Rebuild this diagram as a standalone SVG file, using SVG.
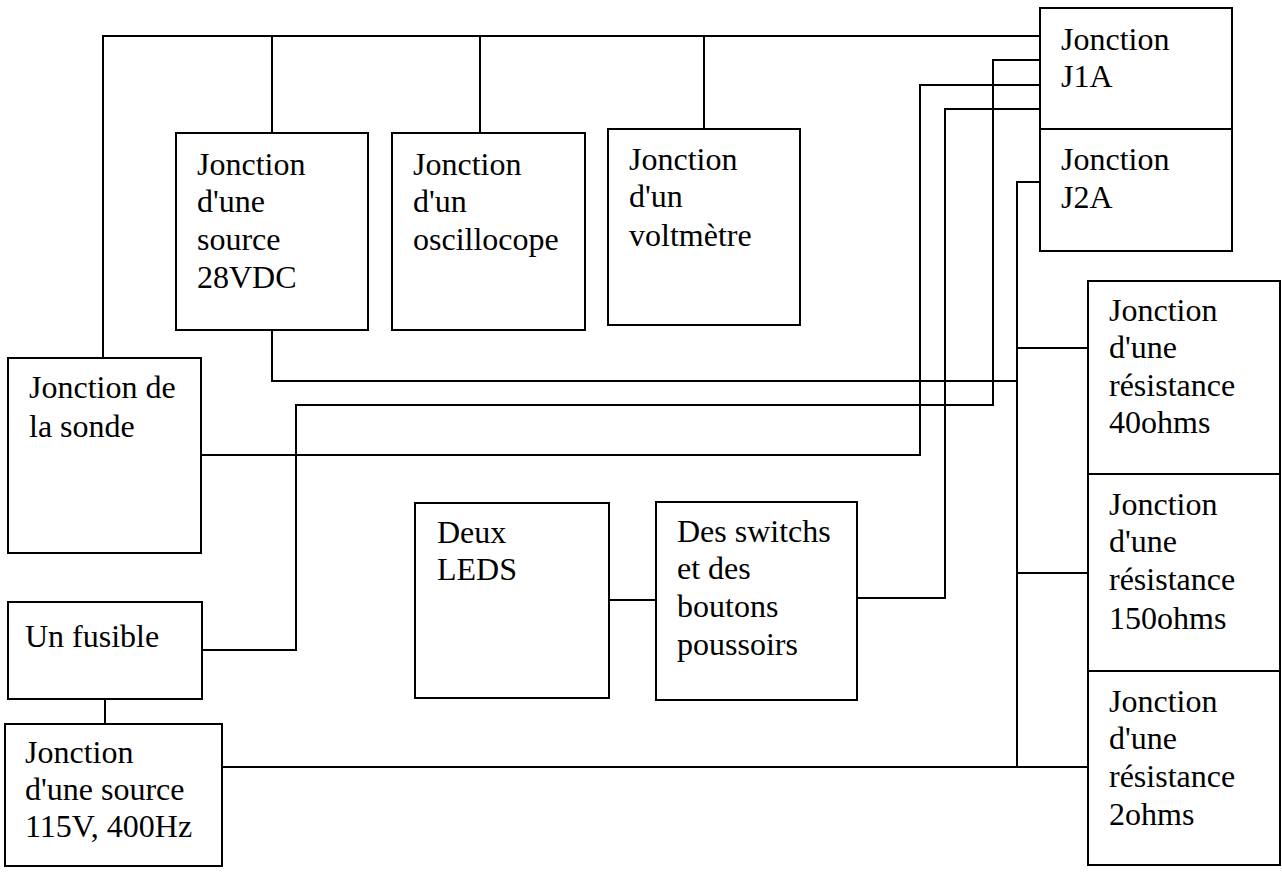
<svg xmlns="http://www.w3.org/2000/svg" width="1282" height="872" viewBox="0 0 1282 872">
<style>
.box{fill:none;stroke:#000;stroke-width:2}
.w{fill:none;stroke:#000;stroke-width:2}
text{font-family:"Liberation Serif","Times New Roman",serif;font-size:32px;fill:#000}
</style>
<rect x="0" y="0" width="1282" height="872" fill="#fff"/>
<g id="connectors">
<path class="w" d="M103,358 V36 H1040"/>
<path class="w" d="M272,36 V133"/>
<path class="w" d="M480,36 V133"/>
<path class="w" d="M704,36 V129"/>
<path class="w" d="M272,330 V381 H1017"/>
<path class="w" d="M202,650 H296 V405 H993 V60 H1040"/>
<path class="w" d="M201,455 H920 V85 H1040"/>
<path class="w" d="M857,598 H945 V109 H1040"/>
<path class="w" d="M1040,182 H1017 V767 H1088"/>
<path class="w" d="M1017,348 H1088"/>
<path class="w" d="M1017,573 H1088"/>
<path class="w" d="M222,767 H1017"/>
<path class="w" d="M609,600 H656"/>
<path class="w" d="M105,699 V724"/>
</g>
<g id="j1a"><rect class="box" x="1040" y="8" width="192" height="121"/><text x="1061" y="50">Jonction</text><text x="1061" y="87">J1A</text></g>
<g id="j2a"><rect class="box" x="1040" y="129" width="192" height="122"/><text x="1061" y="170">Jonction</text><text x="1061" y="208">J2A</text></g>
<g id="source28"><rect class="box" x="176" y="133" width="192" height="197"/><text x="197" y="175">Jonction</text><text x="197" y="212">d'une</text><text x="197" y="250">source</text><text x="197" y="288">28VDC</text></g>
<g id="oscillo"><rect class="box" x="392" y="133" width="193" height="197"/><text x="413" y="175">Jonction</text><text x="413" y="212">d'un</text><text x="413" y="250">oscillocope</text></g>
<g id="voltmetre"><rect class="box" x="608" y="129" width="192" height="196"/><text x="629" y="170">Jonction</text><text x="629" y="207">d'un</text><text x="629" y="246">voltmètre</text></g>
<g id="sonde"><rect class="box" x="8" y="358" width="193" height="195"/><text x="29" y="398">Jonction de</text><text x="29" y="437">la sonde</text></g>
<g id="fusible"><rect class="box" x="8" y="602" width="194" height="97"/><text x="25" y="647">Un fusible</text></g>
<g id="source115"><rect class="box" x="5" y="724" width="217" height="142"/><text x="25" y="763">Jonction</text><text x="25" y="800">d'une source</text><text x="25" y="837">115V, 400Hz</text></g>
<g id="leds"><rect class="box" x="415" y="503" width="194" height="195"/><text x="437" y="543">Deux</text><text x="437" y="580">LEDS</text></g>
<g id="switchs"><rect class="box" x="656" y="502" width="201" height="198"/><text x="677" y="542">Des switchs</text><text x="677" y="579">et des</text><text x="677" y="617">boutons</text><text x="677" y="655">poussoirs</text></g>
<g id="r40"><rect class="box" x="1088" y="281" width="192" height="193"/><text x="1109" y="321">Jonction</text><text x="1109" y="358">d'une</text><text x="1109" y="396">résistance</text><text x="1109" y="433">40ohms</text></g>
<g id="r150"><rect class="box" x="1088" y="474" width="192" height="197"/><text x="1109" y="515">Jonction</text><text x="1109" y="552">d'une</text><text x="1109" y="590">résistance</text><text x="1109" y="629">150ohms</text></g>
<g id="r2"><rect class="box" x="1088" y="671" width="192" height="194"/><text x="1109" y="712">Jonction</text><text x="1109" y="749">d'une</text><text x="1109" y="787">résistance</text><text x="1109" y="825">2ohms</text></g>
</svg>
